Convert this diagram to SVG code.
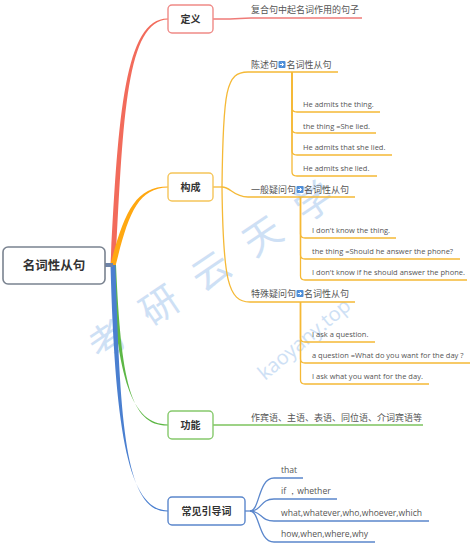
<svg xmlns="http://www.w3.org/2000/svg" width="474" height="549" viewBox="0 0 474 549">
<style>
.node{fill:#fff;stroke-width:1.4}
.nt{font-family:"Noto Sans CJK SC","Noto Sans",sans-serif;font-size:10px;fill:#333;text-anchor:middle;font-weight:bold}
.cn{font-family:"Noto Sans CJK SC","Noto Sans",sans-serif;font-size:9px;fill:#555}
.en{font-family:"Open Sans","Noto Sans",sans-serif;font-size:7.5px;fill:#555}
.en2{font-family:"Open Sans","Noto Sans",sans-serif;font-size:8.6px;fill:#555}
.y{fill:none;stroke:#F5B936;stroke-width:1.3}
.r{fill:none;stroke:#EF7B78;stroke-width:1.3}
.g{fill:none;stroke:#7CC35E;stroke-width:1.5}
.b{fill:none;stroke:#5B87CC;stroke-width:1.3}
.wm{font-family:"Open Sans",sans-serif;fill:#C9DDF5}
</style>
<defs>
<g id="ico"><rect x="0" y="-7" width="7" height="7" rx="1" fill="#4D8DD8"/><path d="M1.3,-3.5 H4.5 M3.2,-5.2 L5.2,-3.5 L3.2,-1.8" stroke="#fff" stroke-width="1" fill="none"/></g>
</defs>
<rect width="474" height="549" fill="#fff"/>
<!-- watermark -->
<g id="watermark" opacity="0.9">
<text class="wm" font-size="38" transform="translate(100,362) rotate(-34)" letter-spacing="24" style="font-family:'Noto Sans CJK SC',sans-serif;font-weight:400">考研云天学</text>
<text class="wm" font-size="20" transform="translate(265,381) rotate(-40)">kaoyany.top</text>
</g>
<g id="connectors">
<path d="M110.5,265 C118,120 124,17.6 168,18.4 L168,19.6 C126,20.6 123,120 115.5,265 Z" fill="#F26B5B"/>
<path d="M110.5,264 C124,213 135,186.4 168,186.4 L168,187.6 C137,188 128,216 115.5,266 Z" fill="#FFA811"/>
<path d="M111,265 C117,380 132,424.4 168,424.4 L168,425.6 C130,426 121,380 116,265 Z" fill="#5DB745"/>
<path d="M110.5,265 C115,430 128,510.4 168,510.4 L168,511.6 C126,512 120,430 115.5,265 Z" fill="#4A7FD0"/>
<path d="M105,265 H113" stroke="#6F84A8" stroke-width="4"/>
<path class="r" d="M213,19 H230 C240,19 240,18 251,18 H362"/>
<path class="y" d="M213,187 H222"/>
<path class="y" d="M222,187 C223,90 226,72 248,72 H338"/>
<path class="y" d="M222,187 C231,187 233,197 248,197 H355"/>
<path class="y" d="M222,187 C223,280 228,302 250,302 H355"/>
<path class="y" d="M292,72 V108 Q292,112 297,112 H380"/>
<path class="y" d="M292,72 V129 Q292,133 297,133 H376"/>
<path class="y" d="M292,72 V151 Q292,155 297,155 H392"/>
<path class="y" d="M292,72 V172 Q292,176 297,176 H377"/>
<path class="y" d="M300.5,197 V234 Q300.5,238 305,238 H396"/>
<path class="y" d="M300.5,197 V255 Q300.5,259 305,259 H460"/>
<path class="y" d="M300.5,197 V276 Q300.5,280 305,280 H467"/>
<path class="y" d="M300.5,302 V338 Q300.5,342 305,342 H375"/>
<path class="y" d="M300.5,302 V359 Q300.5,363 305,363 H470"/>
<path class="y" d="M300.5,302 V380 Q300.5,384 305,384 H429"/>
<path class="g" d="M213,425 H423"/>
<path class="b" d="M245,511 H250"/>
<path class="b" d="M250,511 C260,511 258,478 274,478 H303"/>
<path class="b" d="M250,511 C262,511 260,499 274,499 H337"/>
<path class="b" d="M250,511 C262,511 260,521 274,521 H429"/>
<path class="b" d="M250,511 C260,511 258,542 274,542 H375"/>
</g>
<g id="root">
<rect x="3" y="247" width="102" height="37" rx="5" fill="#fff" stroke="#7A8390" stroke-width="1.6"/>
<text x="54" y="270" class="nt" style="font-size:12.5px">名词性从句</text>
</g>
<g id="n-dingyi">
<rect class="node" x="168" y="5" width="45" height="28" rx="4" stroke="#EF8A87"/>
<text x="190.5" y="22.5" class="nt">定义</text>
</g>
<g id="n-dingyi-t"><text x="251" y="13" class="cn">复合句中起名词作用的句子</text></g>
<g id="n-goucheng">
<rect class="node" x="168" y="173" width="45" height="28" rx="4" stroke="#F5C55A"/>
<text x="190.5" y="190.5" class="nt">构成</text>
</g>
<g id="n-chenshu"><text x="251" y="68" class="cn">陈述句</text><use href="#ico" x="278.5" y="68"/><text x="286.5" y="68" class="cn">名词性从句</text></g>
<g id="n-c1"><text x="303" y="107" class="en">He admits the thing.</text></g>
<g id="n-c2"><text x="303" y="129" class="en">the thing =She lied.</text></g>
<g id="n-c3"><text x="303" y="150" class="en">He admits that she lied.</text></g>
<g id="n-c4"><text x="303" y="171" class="en">He admits she lied.</text></g>
<g id="n-yiban"><text x="251" y="193" class="cn">一般疑问句</text><use href="#ico" x="296.5" y="193"/><text x="304" y="193" class="cn">名词性从句</text></g>
<g id="n-y1"><text x="312" y="233" class="en">I don't know the thing.</text></g>
<g id="n-y2"><text x="312" y="254" class="en">the thing =Should he answer the phone?</text></g>
<g id="n-y3"><text x="312" y="275" class="en">I don't know if he should answer the phone.</text></g>
<g id="n-teshu"><text x="251" y="297" class="cn">特殊疑问句</text><use href="#ico" x="296.5" y="297"/><text x="304" y="297" class="cn">名词性从句</text></g>
<g id="n-t1"><text x="312" y="337" class="en">I ask a question.</text></g>
<g id="n-t2"><text x="312" y="358" class="en">a question =What do you want for the day ?</text></g>
<g id="n-t3"><text x="312" y="379" class="en">I ask what you want for the day.</text></g>
<g id="n-gongneng">
<rect class="node" x="168" y="411" width="45" height="28" rx="4" stroke="#86C96C"/>
<text x="190.5" y="428.5" class="nt">功能</text>
</g>
<g id="n-gongneng-t"><text x="251" y="421" class="cn">作宾语、主语、表语、同位语、介词宾语等</text></g>
<g id="n-yindao">
<rect class="node" x="168" y="497" width="77" height="28" rx="4" stroke="#5B87CC"/>
<text x="206.5" y="514.5" class="nt">常见引导词</text>
</g>
<g id="n-w1"><text x="281" y="473" class="en2">that</text></g>
<g id="n-w2"><text x="281" y="494" class="en2">if ，whether</text></g>
<g id="n-w3"><text x="281" y="516" class="en2">what,whatever,who,whoever,which</text></g>
<g id="n-w4"><text x="281" y="537" class="en2">how,when,where,why</text></g>
</svg>
